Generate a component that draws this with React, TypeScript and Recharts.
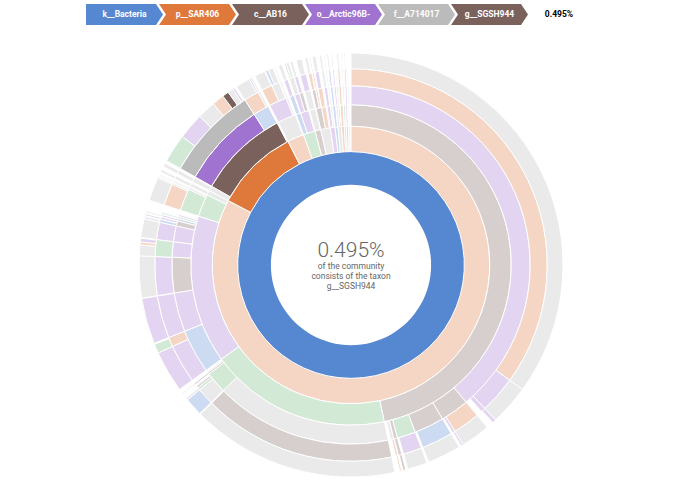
import React from "react";
import { PieChart, Pie, Cell } from "recharts";

// [name, parent, percent of community, colour key]
type Node = [string, string, number, string];

const kingdoms: Node[] = [["k__Bacteria", "root", 100, "blue"]];

const phyla: Node[] = [
  ["p1", "k__Bacteria", 82.69, "orange"],
  ["p__SAR406", "k__Bacteria", 9.81, "orange"],
  ["p3", "k__Bacteria", 1.94, "orange"],
  ["p4", "k__Bacteria", 1.39, "green"],
  ["p5", "k__Bacteria", 0.67, "brown"],
  ["p6", "k__Bacteria", 1.11, "gray"],
  ["p7", "k__Bacteria", 0.56, "purple"],
  ["p8", "k__Bacteria", 0.33, "blue"],
  ["p9", "k__Bacteria", 0.42, "gray"],
  ["p10", "k__Bacteria", 0.33, "orange"],
  ["p11", "k__Bacteria", 0.22, "green"],
  ["p12", "k__Bacteria", 0.25, "purple"],
  ["p13", "k__Bacteria", 0.17, "gray"],
];

const classes: Node[] = [
  ["c1", "p1", 46.67, "brown"],
  ["c2", "p1", 18.33, "green"],
  ["c3", "p1", 14.94, "purple"],
  ["c4", "p1", 2.28, "green"],
  ["c5", "p1", 0.47, "gray"],
  ["c6", "p__SAR406", 0.5, "gray"],
  ["c__AB16", "p__SAR406", 9.17, "brown"],
  ["c7", "p3", 1.85, "gray"],
  ["c8", "p4", 0.47, "blue"],
  ["c9", "p4", 0.83, "purple"],
  ["c10", "p5", 0.61, "gray"],
  ["c11", "p6", 0.56, "brown"],
  ["c12", "p6", 0.44, "orange"],
  ["c13", "p7", 0.33, "purple"],
  ["c14", "p7", 0.17, "gray"],
  ["c15", "p8", 0.28, "blue"],
  ["c16", "p9", 0.22, "gray"],
  ["c17", "p9", 0.14, "brown"],
  ["c18", "p10", 0.28, "orange"],
  ["c19", "p11", 0.17, "green"],
  ["c20", "p12", 0.19, "purple"],
  ["c21", "p13", 0.14, "gray"],
];

const orders: Node[] = [
  ["o1", "c1", 38.89, "purple"],
  ["o2", "c1", 2.58, "brown"],
  ["o3", "c1", 2.69, "brown"],
  ["o4", "c1", 1.67, "green"],
  ["o5", "c1", 0.33, "brown"],
  ["o6", "c1", 0.28, "gray"],
  ["o7", "c2", 15.97, "gray"],
  ["o8", "c2", 1.94, "green"],
  ["o9", "c2", 0.17, "brown"],
  ["o10", "c2", 0.11, "gray"],
  ["o11", "c3", 3.97, "blue"],
  ["o12", "c3", 3.53, "purple"],
  ["o13", "c3", 3.19, "brown"],
  ["o14", "c3", 1.39, "purple"],
  ["o15", "c3", 1.42, "purple"],
  ["o16", "c3", 0.47, "brown"],
  ["o17", "c3", 0.22, "blue"],
  ["o18", "c3", 0.19, "green"],
  ["o19", "c3", 0.17, "purple"],
  ["o20", "c4", 2.0, "green"],
  ["o21", "c4", 0.19, "gray"],
  ["o22", "c5", 0.33, "gray"],
  ["o23", "c6", 0.42, "gray"],
  ["o__Arctic96B-", "c__AB16", 7.72, "purple"],
  ["o24", "c__AB16", 1.44, "blue"],
  ["o25", "c7", 1.6, "purple"],
  ["o26", "c7", 0.17, "gray"],
  ["o27", "c8", 0.39, "blue"],
  ["o28", "c9", 0.44, "purple"],
  ["o29", "c9", 0.33, "brown"],
  ["o30", "c10", 0.56, "gray"],
  ["o31", "c11", 0.33, "brown"],
  ["o32", "c11", 0.17, "orange"],
  ["o33", "c12", 0.39, "orange"],
  ["o34", "c13", 0.28, "purple"],
  ["o35", "c14", 0.14, "gray"],
  ["o36", "c15", 0.22, "blue"],
  ["o37", "c16", 0.17, "purple"],
  ["o38", "c17", 0.11, "brown"],
  ["o39", "c18", 0.22, "orange"],
  ["o40", "c19", 0.14, "gray"],
  ["o41", "c20", 0.17, "purple"],
  ["o42", "c21", 0.11, "gray"],
];

const families: Node[] = [
  ["f1", "o1", 35.0, "orange"],
  ["f2", "o1", 3.06, "purple"],
  ["f3", "o1", 0.36, "purple"],
  ["f4", "o2", 2.22, "orange"],
  ["f5", "o2", 0.22, "purple"],
  ["f6", "o3", 2.56, "blue"],
  ["f7", "o4", 1.53, "purple"],
  ["f8", "o5", 0.28, "brown"],
  ["f9", "o6", 0.19, "orange"],
  ["f10", "o7", 15.9, "brown"],
  ["f11", "o8", 1.39, "gray"],
  ["f12", "o8", 0.22, "green"],
  ["f13", "o8", 0.17, "brown"],
  ["f14", "o9", 0.14, "brown"],
  ["f15", "o11", 3.19, "purple"],
  ["f16", "o11", 0.78, "orange"],
  ["f17", "o12", 3.5, "purple"],
  ["f18", "o13", 3.19, "purple"],
  ["f19", "o14", 1.39, "green"],
  ["f20", "o15", 1.42, "purple"],
  ["f21", "o16", 0.25, "blue"],
  ["f22", "o16", 0.19, "purple"],
  ["f23", "o17", 0.17, "purple"],
  ["f24", "o18", 0.14, "green"],
  ["f25", "o20", 1.81, "orange"],
  ["f26", "o20", 0.14, "gray"],
  ["f27", "o21", 0.14, "gray"],
  ["f28", "o22", 0.28, "gray"],
  ["f29", "o23", 0.33, "gray"],
  ["f__A714017", "o__Arctic96B-", 7.72, "gray"],
  ["f30", "o24", 1.25, "orange"],
  ["f31", "o24", 0.17, "gray"],
  ["f32", "o25", 0.89, "orange"],
  ["f33", "o25", 0.64, "gray"],
  ["f34", "o26", 0.14, "gray"],
  ["f35", "o27", 0.33, "purple"],
  ["f36", "o28", 0.39, "gray"],
  ["f37", "o29", 0.28, "purple"],
  ["f38", "o30", 0.5, "purple"],
  ["f39", "o31", 0.28, "orange"],
  ["f40", "o32", 0.14, "orange"],
  ["f41", "o33", 0.33, "purple"],
  ["f42", "o34", 0.22, "gray"],
  ["f43", "o35", 0.11, "gray"],
  ["f44", "o36", 0.17, "blue"],
  ["f45", "o37", 0.14, "purple"],
  ["f46", "o38", 0.08, "gray"],
  ["f47", "o39", 0.17, "orange"],
  ["f48", "o40", 0.11, "gray"],
  ["f49", "o41", 0.14, "purple"],
  ["f50", "o42", 0.08, "gray"],
];

const genera: Node[] = [
  ["g1", "f1", 35.0, "gray"],
  ["g2", "f2", 3.06, "gray"],
  ["g3", "f3", 0.28, "purple"],
  ["g4", "f4", 2.22, "gray"],
  ["g5", "f5", 0.17, "purple"],
  ["g6", "f6", 2.56, "gray"],
  ["g7", "f7", 1.53, "gray"],
  ["g8", "f8", 0.22, "brown"],
  ["g9", "f9", 0.14, "orange"],
  ["g10", "f10", 15.9, "gray"],
  ["g11", "f11", 1.39, "blue"],
  ["g12", "f12", 0.17, "gray"],
  ["g13", "f14", 0.11, "gray"],
  ["g14", "f15", 3.19, "purple"],
  ["g15", "f16", 0.7, "green"],
  ["g16", "f17", 3.5, "purple"],
  ["g17", "f18", 3.19, "gray"],
  ["g18", "f19", 0.83, "gray"],
  ["g19", "f19", 0.22, "orange"],
  ["g20", "f19", 0.28, "purple"],
  ["g21", "f20", 1.42, "gray"],
  ["g22", "f21", 0.19, "gray"],
  ["g23", "f22", 0.14, "purple"],
  ["g24", "f23", 0.14, "gray"],
  ["g25", "f25", 1.81, "gray"],
  ["g26", "f26", 0.11, "gray"],
  ["g27", "f27", 0.11, "gray"],
  ["g28", "f28", 0.22, "gray"],
  ["g29", "f29", 0.28, "gray"],
  ["g30", "f__A714017", 2.17, "green"],
  ["g31", "f__A714017", 2.0, "purple"],
  ["g32", "f__A714017", 1.39, "gray"],
  ["g33", "f__A714017", 0.92, "orange"],
  ["g__SGSH944", "f__A714017", 0.495, "brown"],
  ["g34", "f__A714017", 0.42, "gray"],
  ["g35", "f__A714017", 0.17, "purple"],
  ["g36", "f30", 1.11, "gray"],
  ["g37", "f30", 0.14, "purple"],
  ["g38", "f31", 0.14, "gray"],
  ["g39", "f32", 0.83, "gray"],
  ["g40", "f33", 0.22, "blue"],
  ["g41", "f33", 0.39, "gray"],
  ["g42", "f34", 0.11, "gray"],
  ["g43", "f35", 0.28, "gray"],
  ["g44", "f36", 0.14, "green"],
  ["g45", "f36", 0.22, "gray"],
  ["g46", "f37", 0.22, "gray"],
  ["g47", "f38", 0.44, "gray"],
  ["g48", "f39", 0.22, "gray"],
  ["g49", "f40", 0.11, "gray"],
  ["g50", "f41", 0.28, "gray"],
  ["g51", "f42", 0.17, "gray"],
  ["g52", "f43", 0.08, "gray"],
  ["g53", "f44", 0.14, "gray"],
  ["g54", "f45", 0.11, "gray"],
  ["g55", "f47", 0.14, "gray"],
  ["g56", "f48", 0.08, "gray"],
  ["g57", "f49", 0.11, "gray"],
];

const levels: Node[][] = [kingdoms, phyla, classes, orders, families, genera];

const trail = ["k__Bacteria", "p__SAR406", "c__AB16", "o__Arctic96B-", "f__A714017", "g__SGSH944"];
const trailPercent = "0.495%";
const centerLines = ["of the community", "consists of the taxon", "g__SGSH944"];

const COLORS: Record<string, string> = {
  blue: "#5687d1",
  orange: "#de783b",
  brown: "#7b615c",
  purple: "#a173d1",
  gray: "#bbbbbb",
  green: "#6ab975",
};

type Seg = { name: string; value: number; color: string | null; gap: boolean };

function buildRings(): Seg[][] {
  const rings: Seg[][] = [];
  let parents: Seg[] = [{ name: "root", value: 100, color: null, gap: false }];
  for (const level of levels) {
    const ring: Seg[] = [];
    for (const p of parents) {
      const kids = p.gap ? [] : level.filter((n) => n[1] === p.name);
      let used = 0;
      for (const k of kids) {
        ring.push({ name: k[0], value: k[2], color: k[3], gap: false });
        used += k[2];
      }
      const rest = p.value - used;
      if (rest > 1e-6) ring.push({ name: "gap", value: rest, color: null, gap: true });
    }
    rings.push(ring);
    parents = ring;
  }
  return rings;
}

const rings = buildRings();

const CX = 351;
const CY = 265;
const R = 212;
const radius = (i: number) => R * Math.sqrt(i / (levels.length + 1));

const trailColor = (name: string) => {
  for (const lvl of levels) {
    const n = lvl.find((x) => x[0] === name);
    if (n) return COLORS[n[3]];
  }
  return "#bbb";
};

const BW = 70;
const BH = 21;
const BS = 3;
const BT = 7;
const BX = 86;
const BY = 4;

export default function App() {
  return (
    <div style={{ position: "absolute", left: 0, top: 0, width: 695, height: 494, background: "#fff" }}>
      <PieChart width={695} height={494} margin={{ top: 0, right: 0, bottom: 0, left: 0 }}>
        {rings.map((ring, li) => (
          <Pie
            key={li}
            data={ring}
            dataKey="value"
            nameKey="name"
            cx={CX}
            cy={CY}
            innerRadius={radius(li + 1)}
            outerRadius={radius(li + 2)}
            startAngle={90}
            endAngle={-270}
            isAnimationActive={false}
            stroke="#fff"
            strokeWidth={1}
          >
            {ring.map((s, i) =>
              s.gap ? (
                <Cell key={i} fill="none" stroke="none" />
              ) : (
                <Cell
                  key={i}
                  fill={COLORS[s.color as string]}
                  fillOpacity={trail.includes(s.name) ? 1 : 0.3}
                  stroke={s.value >= 100 ? "none" : "#fff"}
                  strokeWidth={1}
                />
              )
            )}
          </Pie>
        ))}
      </PieChart>
      <svg
        width={695}
        height={494}
        style={{ position: "absolute", left: 0, top: 0, pointerEvents: "none" }}
      >
        {trail.map((name, i) => {
          const x0 = BX + i * (BW + BS);
          const pts = [
            [x0, BY],
            [x0 + BW, BY],
            [x0 + BW + BT, BY + BH / 2],
            [x0 + BW, BY + BH],
            [x0, BY + BH],
          ];
          if (i > 0) pts.push([x0 + BT, BY + BH / 2]);
          return (
            <g key={name}>
              <polygon points={pts.map((p) => p.join(",")).join(" ")} fill={trailColor(name)} />
              <text
                x={x0 + (BW + BT) / 2}
                y={BY + BH / 2}
                dy="0.35em"
                textAnchor="middle"
                fill="#fff"
                fontFamily="Roboto, sans-serif"
                fontWeight="bold"
                fontSize={8.5}
              >
                {name}
              </text>
            </g>
          );
        })}
        <text
          x={BX + trail.length * (BW + BS) + 35}
          y={BY + BH / 2}
          dy="0.35em"
          textAnchor="middle"
          fill="#000"
          fontFamily="Roboto, sans-serif"
          fontWeight="bold"
          fontSize={8.5}
        >
          {trailPercent}
        </text>
        <text
          x={CX}
          y={257}
          textAnchor="middle"
          fill="#666"
          fontFamily="Roboto, sans-serif"
          fontWeight={300}
          fontSize={21}
        >
          {trailPercent}
        </text>
        {centerLines.map((t, i) => (
          <text
            key={i}
            x={CX}
            y={269 + i * 10.2}
            textAnchor="middle"
            fill="#666"
            fontFamily="Roboto, sans-serif"
            fontSize={8.5}
          >
            {t}
          </text>
        ))}
      </svg>
    </div>
  );
}
